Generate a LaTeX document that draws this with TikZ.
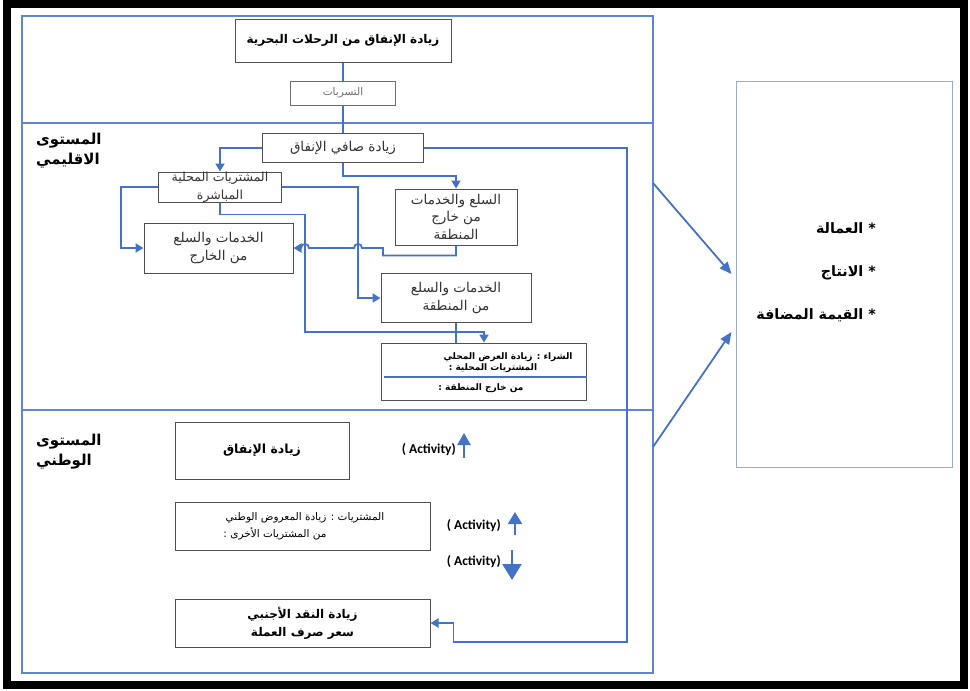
\documentclass[tikz,border=0pt]{standalone}
\usepackage{fontspec}
\usetikzlibrary{arrows.meta}
\TeXXeTstate=1
\newfontfamily\arabicFont[Script=Arabic]{DejaVu Sans}
\newfontfamily\latinFont{Carlito}
\definecolor{lineColor}{RGB}{68,114,196}
\definecolor{frameColor}{RGB}{95,135,205}
\definecolor{paleFrame}{RGB}{150,172,215}
\definecolor{boxColor}{RGB}{80,80,80}
\definecolor{textGray}{RGB}{50,50,50}
\definecolor{leakGray}{RGB}{110,110,110}
\tikzstyle{diagram} = [x = 1pt, y = -1pt]
\tikzstyle{boxStyle} = [draw=boxColor, fill=white, line width=1pt, inner sep=0pt]
\tikzstyle{boxText} = [text=textGray, align=center, inner sep=0pt, font=\arabicFont\fontsize{13.5}{17.5}\selectfont]
\tikzstyle{boldText} = [text=black, align=center, inner sep=0pt, font=\arabicFont\bfseries\fontsize{12}{18}\selectfont]
\tikzstyle{smallBold} = [text=black, inner sep=0pt, font=\arabicFont\bfseries\fontsize{9}{12}\selectfont]
\tikzstyle{levelText} = [align=left, inner sep=0pt, font=\arabicFont\bfseries\fontsize{15}{20}\selectfont]
\tikzstyle{effectText} = [inner sep=0pt, font=\arabicFont\bfseries\fontsize{14.3}{18}\selectfont]
\tikzstyle{activityText} = [inner sep=0pt, font=\latinFont\bfseries\fontsize{13.5}{15}\selectfont]
\tikzstyle{flowLine} = [color=lineColor, line width=1.8pt]
\tikzstyle{flowArrow} = [flowLine, -{Triangle[length=8pt,width=9pt]}]
\tikzstyle{frameLine} = [color=frameColor, line width=1.3pt]
\tikzstyle{activityArrow} = [color=lineColor, line width=2.2pt, -{Triangle[length=12pt,width=13pt]}]
\newcommand{\rtl}[1]{\beginR #1\endR}
\newcommand{\hop}[1]{-- (#1+4,248) .. controls (#1+4,242.7) and (#1-4,242.7) .. (#1-4,248)}

\begin{document}
\begin{tikzpicture}[diagram]
  \useasboundingbox (0,0) rectangle (970,691);
  \draw[line width=8pt] (7,3.5) rectangle (963.5,684.5);

  % frame of the two levels
  \draw[frameLine] (22,16) rectangle (653,673);
  \draw[frameLine] (22,123) -- (653,123);
  \draw[frameLine] (22,410) -- (653,410);

  % top: spending from cruises
  \node[boxStyle, minimum width=216pt, minimum height=43pt] (cruise) at (343,40.5) {};
  \node[boldText] (cruiseText) at (cruise) {\rtl{زيادة الإنفاق من الرحلات البحرية}};
  \node[boxStyle, minimum width=161pt, minimum height=29pt] (net) at (343,148) {};
  \node[boxText] (netText) at (net) {\rtl{زيادة صافي الإنفاق}};
  \draw[flowLine] (cruise.south) -- (net.north);
  \node[boxStyle, draw=leakGray, minimum width=105pt, minimum height=24pt] (leak) at (343,93) {};
  \node[boxText, text=leakGray, font=\arabicFont\fontsize{10.5}{12}\selectfont] (leakText) at (leak) {\rtl{التسربات}};

  % regional level
  \node[levelText, anchor=north west] (regionLevel) at (36,133) {\rtl{المستوى}\\\rtl{الاقليمي}};
  \node[boxStyle, minimum width=123pt, minimum height=30pt] (direct) at (220,187) {};
  \node[boxText, font=\arabicFont\fontsize{12.5}{18}\selectfont] (directText) at (direct) {\rtl{المشتريات المحلية}\\\rtl{المباشرة}};
  \node[boxStyle, minimum width=122pt, minimum height=56pt] (outside) at (456,217) {};
  \node[boxText] (outsideText) at (outside) {\rtl{السلع والخدمات}\\\rtl{من خارج}\\\rtl{المنطقة}};
  \node[boxStyle, minimum width=149pt, minimum height=50pt] (abroad) at (218.5,248) {};
  \node[boxText] (abroadText) at (abroad) {\rtl{الخدمات والسلع}\\\rtl{من الخارج}};
  \node[boxStyle, minimum width=150pt, minimum height=49pt] (local) at (456,298) {};
  \node[boxText] (localText) at (local) {\rtl{الخدمات والسلع}\\\rtl{من المنطقة}};
  \node[boxStyle, minimum width=205pt, minimum height=57pt] (buy) at (484,371.5) {};
  \node[smallBold] (buyA) at (508,357) {\rtl{الشراء : زيادة العرض المحلي}};
  \node[smallBold] (buyB) at (493,368) {\rtl{المشتريات المحلية :}};
  \node[smallBold] (buyC) at (481,388) {\rtl{من خارج المنطقة :}};
  \draw[flowLine, line width=1.1pt] (384,377) -- (buy.east |- 0,377);

  % national level
  \node[levelText, anchor=north west] (nationLevel) at (36,434) {\rtl{المستوى}\\\rtl{الوطني}};
  \node[boxStyle, minimum width=174pt, minimum height=57pt] (spend) at (262,450.5) {};
  \node[boldText, font=\arabicFont\bfseries\fontsize{12.5}{15}\selectfont] (spendText) at (spend) {\rtl{زيادة الإنفاق}};
  \node[boxStyle, minimum width=255pt, minimum height=48pt] (supply) at (302.5,526) {};
  \node[smallBold, font=\arabicFont\fontsize{10.5}{15}\selectfont] (supplyA) at (305,518) {\rtl{المشتريات  : زيادة المعروض الوطني}};
  \node[smallBold, font=\arabicFont\fontsize{10.5}{15}\selectfont] (supplyB) at (275,534) {\rtl{من المشتريات الأخرى :}};
  \node[boxStyle, minimum width=255pt, minimum height=48pt] (forex) at (302.5,623) {};
  \node[boldText] (forexText) at (forex) {\rtl{زيادة النقد الأجنبي}\\\rtl{سعر صرف العملة}};

  % connectors
  \draw[flowArrow] (net.west) -| (direct.north);
  \draw[flowArrow] (net.south) -- ++(0,13) -| (outside.north);
  \draw[flowArrow] (net.east) -| (627,642) -| ([xshift=23pt]forex.east) -- (forex.east);
  \draw[flowArrow] (direct.west) -- ++(-37,0) |- (abroad.west);
  \draw[flowArrow] (direct.east) -- (358,187) |- (local.west);
  \draw[flowArrow] (direct.south) -- ++(0,12) -| (305,332) -| (buy.north);
  \draw[flowArrow] (outside.south) -- ++(0,10) -| (383,248) \hop{358} \hop{305} -- (abroad.east);
  \draw[flowLine] (local.south) -- (local.south |- buy.north);

  \node[activityText, anchor=east] (actSpend) at (456,450) {( Activity)};
  \draw[activityArrow] ([xshift=8pt,yshift=-8pt]actSpend.east) -- ([xshift=8pt,yshift=17pt]actSpend.east);
  \node[activityText, anchor=east] (actUp) at (501,526) {( Activity)};
  \draw[activityArrow, -{Triangle[length=12pt,width=14pt]}] ([xshift=14pt,yshift=-9pt]actUp.east) -- ([xshift=14pt,yshift=14pt]actUp.east);
  \node[activityText, anchor=east] (actDown) at (501,562) {( Activity)};
  \draw[activityArrow, -{Triangle[length=16pt,width=19pt]}] ([xshift=11pt,yshift=12pt]actDown.east) -- ([xshift=11pt,yshift=-18pt]actDown.east);

  % effects
  \node[draw=paleFrame, line width=1pt, minimum width=216pt, minimum height=386pt] (effects) at (844,274) {};
  \node[effectText, anchor=east] (labour) at (876,228) {\rtl{* العمالة}};
  \node[effectText, anchor=east] (output) at (876,273) {\rtl{* الانتاج}};
  \node[effectText, anchor=east] (added) at (876,315) {\rtl{* القيمة المضافة}};
  \draw[flowArrow, -{Triangle[length=12pt,width=10pt]}] (653,183) -- ([xshift=-4pt]effects.west);
  \draw[flowArrow, -{Triangle[length=12pt,width=10pt]}] (653,447) -- ([xshift=-4pt,yshift=-58pt]effects.west);
\end{tikzpicture}
\end{document}
